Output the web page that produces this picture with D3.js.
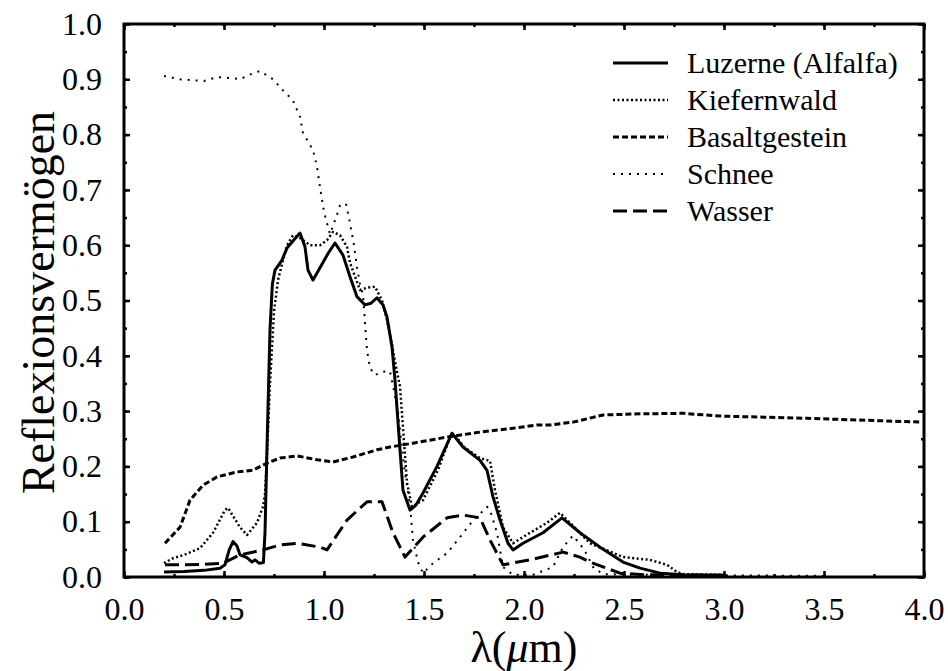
<!DOCTYPE html>
<html>
<head>
	<meta charset="utf-8">
	<script src="https://cdnjs.cloudflare.com/ajax/libs/d3/7.8.5/d3.min.js"></script>
	<style>
		body { margin: 0; background: #fff; }
		svg { display: block; font-family: "Liberation Serif", "Times New Roman", serif; }
		.axis text { font-size: 32px; fill: #000; }
		.axis line { stroke: #000; stroke-width: 2.5; }
	</style>
</head>
<body>
	<svg width="948" height="671" id="chart"></svg>

	<script>
	//data (wavelength in µm, reflectance)
	let luzerneWl = [0.2, 0.3, 0.4, 0.48, 0.505, 0.525, 0.545, 0.565, 0.58, 0.615, 0.64, 0.655, 0.675, 0.697, 0.705, 0.715, 0.73, 0.742, 0.755, 0.79, 0.815, 0.85, 0.88, 0.905, 0.92, 0.945, 0.98, 1.02, 1.055, 1.095, 1.13, 1.165, 1.205, 1.235, 1.265, 1.295, 1.315, 1.34, 1.355, 1.37, 1.38, 1.395, 1.43, 1.46, 1.495, 1.565, 1.64, 1.695, 1.78, 1.815, 1.845, 1.88, 1.92, 1.945, 1.995, 2.095, 2.19, 2.28, 2.38, 2.495, 2.58, 2.68, 2.8, 3.0];
	let luzerneR = [0.009, 0.010, 0.012, 0.016, 0.022, 0.048, 0.064, 0.056, 0.040, 0.035, 0.027, 0.031, 0.025, 0.026, 0.08, 0.235, 0.447, 0.53, 0.555, 0.573, 0.595, 0.61, 0.622, 0.597, 0.555, 0.537, 0.559, 0.585, 0.604, 0.582, 0.543, 0.507, 0.492, 0.495, 0.505, 0.492, 0.47, 0.416, 0.356, 0.28, 0.23, 0.157, 0.121, 0.13, 0.152, 0.2, 0.26, 0.235, 0.211, 0.193, 0.145, 0.103, 0.061, 0.049, 0.061, 0.08, 0.107, 0.08, 0.054, 0.027, 0.016, 0.007, 0.004, 0.003];

	let kieferWl = [0.2, 0.245, 0.3, 0.38, 0.445, 0.505, 0.52, 0.58, 0.615, 0.665, 0.695, 0.705, 0.715, 0.73, 0.75, 0.77, 0.795, 0.815, 0.845, 0.88, 0.93, 0.98, 1.015, 1.045, 1.08, 1.115, 1.13, 1.18, 1.215, 1.255, 1.29, 1.315, 1.34, 1.36, 1.38, 1.395, 1.415, 1.44, 1.495, 1.57, 1.63, 1.65, 1.7, 1.78, 1.83, 1.855, 1.895, 1.945, 2.03, 2.115, 2.18, 2.23, 2.33, 2.495, 2.63, 2.715, 2.765, 2.8, 3.0];
	let kieferR = [0.025, 0.034, 0.04, 0.052, 0.08, 0.121, 0.125, 0.09, 0.076, 0.098, 0.127, 0.15, 0.22, 0.35, 0.48, 0.537, 0.573, 0.6, 0.618, 0.613, 0.6, 0.6, 0.609, 0.624, 0.618, 0.597, 0.568, 0.519, 0.523, 0.525, 0.5, 0.465, 0.42, 0.38, 0.344, 0.27, 0.17, 0.127, 0.139, 0.193, 0.253, 0.258, 0.235, 0.215, 0.21, 0.157, 0.09, 0.061, 0.08, 0.098, 0.116, 0.098, 0.061, 0.036, 0.031, 0.022, 0.009, 0.005, 0.004];

	let basaltWl = [0.205, 0.28, 0.33, 0.395, 0.465, 0.565, 0.645, 0.715, 0.78, 0.865, 0.965, 1.045, 1.145, 1.265, 1.33, 1.445, 1.615, 1.78, 1.945, 2.065, 2.13, 2.245, 2.395, 2.58, 2.795, 2.98, 3.415, 3.99];
	let basaltR = [0.061, 0.09, 0.139, 0.166, 0.181, 0.19, 0.193, 0.206, 0.215, 0.219, 0.212, 0.208, 0.217, 0.23, 0.235, 0.242, 0.253, 0.262, 0.269, 0.275, 0.275, 0.28, 0.293, 0.295, 0.296, 0.291, 0.287, 0.28];

	let schneeWl = [0.2, 0.28, 0.4, 0.465, 0.545, 0.58, 0.645, 0.68, 0.745, 0.795, 0.845, 0.88, 0.895, 0.945, 0.965, 0.98, 1.0, 1.03, 1.06, 1.08, 1.11, 1.13, 1.15, 1.165, 1.18, 1.195, 1.205, 1.215, 1.23, 1.255, 1.29, 1.33, 1.37, 1.4, 1.43, 1.445, 1.47, 1.495, 1.545, 1.615, 1.68, 1.74, 1.815, 1.83, 1.865, 1.895, 1.945, 2.045, 2.145, 2.195, 2.245, 2.3, 2.35, 2.4, 2.6, 3.0, 3.5];
	let schneeR = [0.906, 0.9, 0.897, 0.904, 0.902, 0.9, 0.911, 0.915, 0.9, 0.88, 0.862, 0.832, 0.803, 0.772, 0.742, 0.705, 0.66, 0.62, 0.65, 0.672, 0.675, 0.64, 0.6, 0.56, 0.53, 0.51, 0.46, 0.41, 0.378, 0.365, 0.371, 0.372, 0.3, 0.2, 0.13, 0.067, 0.027, 0.007, 0.025, 0.043, 0.072, 0.1, 0.127, 0.121, 0.08, 0.018, 0.004, 0.004, 0.018, 0.054, 0.075, 0.05, 0.015, 0.005, 0.004, 0.003, 0.002];

	let wasserWl = [0.205, 0.3, 0.4, 0.495, 0.58, 0.695, 0.78, 0.865, 0.98, 1.015, 1.115, 1.215, 1.29, 1.345, 1.405, 1.495, 1.615, 1.695, 1.78, 1.83, 1.895, 2.03, 2.195, 2.28, 2.33, 2.48, 2.6, 3.0];
	let wasserR = [0.022, 0.022, 0.023, 0.025, 0.04, 0.049, 0.058, 0.061, 0.054, 0.049, 0.103, 0.136, 0.136, 0.08, 0.036, 0.072, 0.107, 0.112, 0.107, 0.067, 0.022, 0.031, 0.045, 0.036, 0.027, 0.007, 0.004, 0.003];

	let seriesNames = ["Luzerne (Alfalfa)", "Kiefernwald", "Basaltgestein", "Schnee", "Wasser"];
	let xTicks = [0, 0.5, 1, 1.5, 2, 2.5, 3, 3.5, 4];
	let yTicks = [0, 0.1, 0.2, 0.3, 0.4, 0.5, 0.6, 0.7, 0.8, 0.9, 1.0];

	//line styles per series
	let styles = [
		{dash: null, width: 3},
		{dash: "2,2.5", width: 2.5},
		{dash: "6,3", width: 3},
		{dash: "2,6", width: 2},
		{dash: "14,6", width: 3}
	];

	let zip = (wl, r) => wl.map((w, i) => ({wl: w, r: r[i]}));
	let series = [
		zip(luzerneWl, luzerneR),
		zip(kieferWl, kieferR),
		zip(basaltWl, basaltR),
		zip(schneeWl, schneeR),
		zip(wasserWl, wasserR)
	];

	//chart area
	let svg = d3.select("svg"),
		margin = {top: 24, right: 24, bottom: 94, left: 124},
		width = +svg.attr("width") - margin.left - margin.right,
		height = +svg.attr("height") - margin.top - margin.bottom;

	let x = d3.scaleLinear().domain([0, 4]).range([0, width]),
		y = d3.scaleLinear().domain([0, 1]).range([height, 0]);

	let g = svg.append("g").attr("transform", "translate(" + margin.left + "," + margin.top + ")");

	let minorX = d3.range(0, 4.01, 0.25),
		minorY = d3.range(0, 1.001, 0.05);

	//strip d3's default axis font and the domain line
	let clean = function(a) {
		a.attr("font-family", null).attr("font-size", null);
		a.selectAll("text").style("font-family", "'Liberation Serif', serif");
		a.select(".domain").remove();
	};

	//bottom axis with labels, ticks pointing inward
	g.append("g")
		.attr("class", "axis")
		.attr("transform", "translate(0," + height + ")")
		.call(d3.axisBottom(x).tickValues(xTicks).tickSize(-6).tickPadding(20).tickFormat(d3.format(".1f")))
		.call(clean);
	g.append("g")
		.attr("class", "axis")
		.attr("transform", "translate(0," + height + ")")
		.call(d3.axisBottom(x).tickValues(minorX).tickSize(-3).tickFormat(""))
		.call(clean);

	//top axis
	g.append("g")
		.attr("class", "axis")
		.call(d3.axisTop(x).tickValues(xTicks).tickSize(-6).tickFormat(""))
		.call(clean);
	g.append("g")
		.attr("class", "axis")
		.call(d3.axisTop(x).tickValues(minorX).tickSize(-3).tickFormat(""))
		.call(clean);

	//left axis with labels
	g.append("g")
		.attr("class", "axis")
		.call(d3.axisLeft(y).tickValues(yTicks).tickSize(-6).tickPadding(22).tickFormat(d3.format(".1f")))
		.call(clean);
	g.append("g")
		.attr("class", "axis")
		.call(d3.axisLeft(y).tickValues(minorY).tickSize(-3).tickFormat(""))
		.call(clean);

	//right axis
	g.append("g")
		.attr("class", "axis")
		.attr("transform", "translate(" + width + ",0)")
		.call(d3.axisRight(y).tickValues(yTicks).tickSize(-6).tickFormat(""))
		.call(clean);
	g.append("g")
		.attr("class", "axis")
		.attr("transform", "translate(" + width + ",0)")
		.call(d3.axisRight(y).tickValues(minorY).tickSize(-3).tickFormat(""))
		.call(clean);

	//frame
	g.append("rect")
		.attr("width", width)
		.attr("height", height)
		.attr("fill", "none")
		.attr("stroke", "#000")
		.attr("stroke-width", 3);

	//curves
	let line = d3.line()
		.x(d => x(d.wl))
		.y(d => y(d.r));

	g.selectAll(".curve")
		.data(series)
		.enter().append("path")
		.attr("class", "curve")
		.attr("fill", "none")
		.attr("stroke", "#000")
		.attr("stroke-linejoin", "round")
		.attr("stroke-width", (d, i) => styles[i].width)
		.attr("stroke-dasharray", (d, i) => styles[i].dash)
		.attr("d", line);

	//legend
	let legend = svg.append("g").attr("transform", "translate(613,63)");
	seriesNames.forEach(function(name, i) {
		let row = legend.append("g").attr("transform", "translate(0," + (i * 37) + ")");
		row.append("line")
			.attr("x1", 0).attr("x2", 55)
			.attr("stroke", "#000")
			.attr("stroke-width", styles[i].width)
			.attr("stroke-dasharray", styles[i].dash);
		row.append("text")
			.attr("x", 74)
			.attr("y", 10)
			.style("font-size", "30px")
			.text(name);
	});

	//axis titles
	svg.append("text")
		.attr("transform", "translate(54," + (margin.top + height / 2 + 2) + ") rotate(-90)")
		.attr("text-anchor", "middle")
		.style("font-size", "46px")
		.text("Reflexionsvermögen");

	let xTitle = svg.append("text")
		.attr("x", margin.left + width / 2)
		.attr("y", 662)
		.attr("text-anchor", "middle")
		.style("font-size", "44px");
	xTitle.append("tspan").text("λ(");
	xTitle.append("tspan").style("font-style", "italic").text("μ");
	xTitle.append("tspan").text("m)");
	</script>
</body>
</html>
